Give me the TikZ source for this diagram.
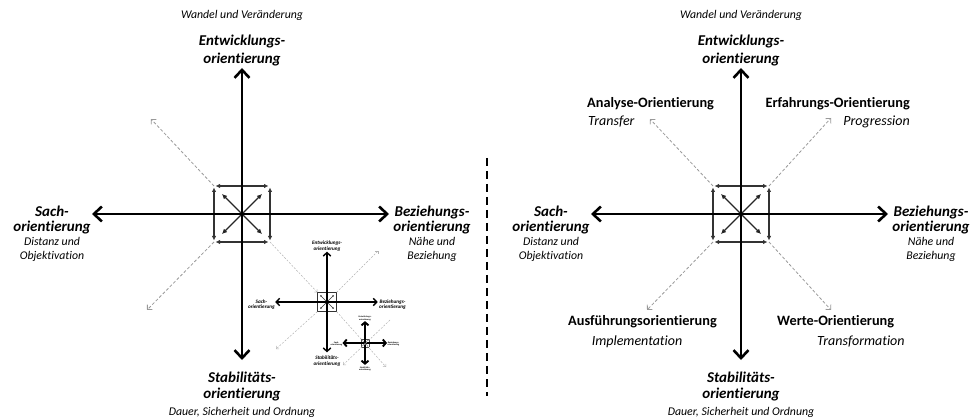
\documentclass[tikz,border=0pt]{standalone}
\usepackage{fontspec}
\setmainfont{Carlito}[Ligatures=NoCommon]
\usetikzlibrary{arrows.meta}

% One orientation cross: four axes, the small arrow box at the centre,
% and the four bold axis labels. #1 is a prefix for all names.
\newcommand\orientcross[1]{%
  \coordinate (#1c) at (0,0);
  \coordinate (#1N) at (0,-146);
  \coordinate (#1S) at (0,146);
  \coordinate (#1W) at (-150,0);
  \coordinate (#1E) at (147,0);
  \coordinate (#1nw) at (-28,-28);
  \coordinate (#1ne) at (28,-28);
  \coordinate (#1sw) at (-28,28);
  \coordinate (#1se) at (28,28);
  \coordinate (#1dnw) at (-20,-20);
  \coordinate (#1dne) at (20,-20);
  \coordinate (#1dsw) at (-20,20);
  \coordinate (#1dse) at (20,20);
  \draw[boxedge] (#1nw) -- (#1ne);
  \draw[boxedge] (#1sw) -- (#1se);
  \draw[boxedge] (#1nw) -- (#1sw);
  \draw[boxedge] (#1ne) -- (#1se);
  \foreach \d in {dnw,dne,dsw,dse} \draw[boxdiag] (#1c) -- (#1\d);
  \draw[axis] (#1c) -- (#1N);
  \draw[axis] (#1c) -- (#1S);
  \draw[axis] (#1c) -- (#1W);
  \draw[axis] (#1c) -- (#1E);
  \node[mainlab] (#1Nt) at (0,-168) {Entwicklungs-};
  \node[mainlab] (#1Nb) at (0,-150) {orientierung};
  \node[mainlab] (#1Wt) at (-190,3) {Sach-};
  \node[mainlab] (#1Wb) at (-190,18) {orientierung};
  \node[mainlab] (#1Et) at (190,3) {Beziehungs-};
  \node[mainlab] (#1Eb) at (190,18) {orientierung};
  \node[mainlab] (#1St) at (0,168) {Stabilitäts-};
  \node[mainlab] (#1Sb) at (0,184) {orientierung};
}

\begin{document}
\begin{tikzpicture}[x=1pt,y=-1pt,
  axis/.style={line width=2.6pt,-{Straight Barb[length=8pt,width=15pt]}},
  boxedge/.style={black!80,line width=1.2pt,shorten <=1.5pt,shorten >=1.5pt,
    {Latex[length=4.5pt,width=4.5pt]}-{Latex[length=4.5pt,width=4.5pt]}},
  boxdiag/.style={black!85,line width=1.2pt,-{Latex[length=5pt,width=5pt]}},
  mainlab/.style={anchor=base,inner sep=0pt,font=\fontsize{15}{17}\selectfont\bfseries\itshape},
  sublab/.style={anchor=base,inner sep=0pt,font=\fontsize{11.8}{13}\selectfont\itshape},
  rlab/.style={inner sep=0pt,font=\fontsize{14.3}{16}\selectfont\bfseries},
  rsub/.style={inner sep=0pt,font=\fontsize{14}{16}\selectfont\itshape},
  diag/.style={gray!80,line width=0.8pt,dash pattern=on 3pt off 2pt,
    -{Straight Barb[length=3.5pt,width=7pt]}},
  smalldiag/.style={gray!60,line width=0.5pt,dash pattern=on 2pt off 1.5pt,
    -{Straight Barb[length=2pt,width=4pt]}},
  separator/.style={line width=2.2pt,dash pattern=on 8pt off 5pt}]
\useasboundingbox (0,0) rectangle (974,419);

% ---------- left cross ----------
\begin{scope}[shift={(242,214)}]
  \orientcross{L}
\end{scope}
\node[sublab] (Lwandel) at (242,19) {Wandel und Veränderung};
\node[sublab] (Ldist1) at (52,246) {Distanz und};
\node[sublab] (Ldist2) at (52,260) {Objektivation};
\node[sublab] (Lnah1) at (432,246) {Nähe und};
\node[sublab] (Lnah2) at (432,260) {Beziehung};
\node[sublab] (Ldauer) at (242,415) {Dauer, Sicherheit und Ordnung};

% ---------- first nested copy ----------
\begin{scope}[shift={(327,302)},scale=0.345,transform shape,
  axis/.style={line width=1.4pt,-{Straight Barb[length=3.5pt,width=7.5pt]}},
  boxedge/.style={black!80,line width=0.5pt},
  boxdiag/.style={black!80,line width=0.5pt,-{Latex[length=1.8pt,width=1.8pt]}}]
  \orientcross{i}
\end{scope}

% ---------- second nested copy ----------
\begin{scope}[shift={(365,343)},scale=0.15,transform shape,
  axis/.style={line width=1.9pt,-{Straight Barb[length=3pt,width=7pt]}},
  boxedge/.style={black!70,line width=0.3pt},
  boxdiag/.style={black!70,line width=0.3pt}]
  \orientcross{j}
\end{scope}

% dashed diagonals of the left cross and its copies
\coordinate (Lul) at (151,119);
\coordinate (Lll) at (147,310);
\draw[diag] (Lnw) -- (Lul);
\draw[diag] (Lsw) -- (Lll);
\draw[smalldiag] (Lse) -- (inw);
\coordinate (iur) at (378,251);
\coordinate (ill) at (276,349);
\coordinate (ilr) at (386,367);
\draw[smalldiag] (ine) -- (iur);
\draw[smalldiag] (isw) -- (ill);
\draw[smalldiag] (ise) -- (ilr);
\coordinate (jur) at (390,320);
\coordinate (jll) at (343,365);
\draw[smalldiag] (jur) -- (jll);

% ---------- separator ----------
\coordinate (septop) at (487,158);
\coordinate (sepbot) at (487,396);
\draw[separator] (septop) -- (sepbot);

% ---------- right cross ----------
\begin{scope}[shift={(741,214)}]
  \orientcross{R}
\end{scope}
\node[sublab] (Rwandel) at (741,19) {Wandel und Veränderung};
\node[sublab] (Rdist1) at (551,246) {Distanz und};
\node[sublab] (Rdist2) at (551,260) {Objektivation};
\node[sublab] (Rnah1) at (931,246) {Nähe und};
\node[sublab] (Rnah2) at (931,260) {Beziehung};
\node[sublab] (Rdauer) at (741,415) {Dauer, Sicherheit und Ordnung};

\coordinate (Rul) at (650,119);
\coordinate (Rur) at (831,118);
\coordinate (Rll) at (647,310);
\coordinate (Rlr) at (831,310);
\draw[diag] (Rnw) -- (Rul);
\draw[diag] (Rne) -- (Rur);
\draw[diag] (Rsw) -- (Rll);
\draw[diag] (Rse) -- (Rlr);

\node[rlab,anchor=base west] (analyse) at (587,108) {Analyse-Orientierung};
\node[rsub,anchor=base west] (transfer) at (588,126) {Transfer};
\node[rlab,anchor=base east] (erfahrung) at (910,108) {Erfahrungs-Orientierung};
\node[rsub,anchor=base east] (progression) at (910,126) {Progression};
\node[rlab,anchor=base east] (ausfuehrung) at (717,326) {Ausführungsorientierung};
\node[rsub,anchor=base] (implementation) at (637,345) {Implementation};
\node[rlab,anchor=base west] (werte) at (777,326) {Werte-Orientierung};
\node[rsub,anchor=base west] (transformation) at (817,345) {Transformation};
\end{tikzpicture}
\end{document}
